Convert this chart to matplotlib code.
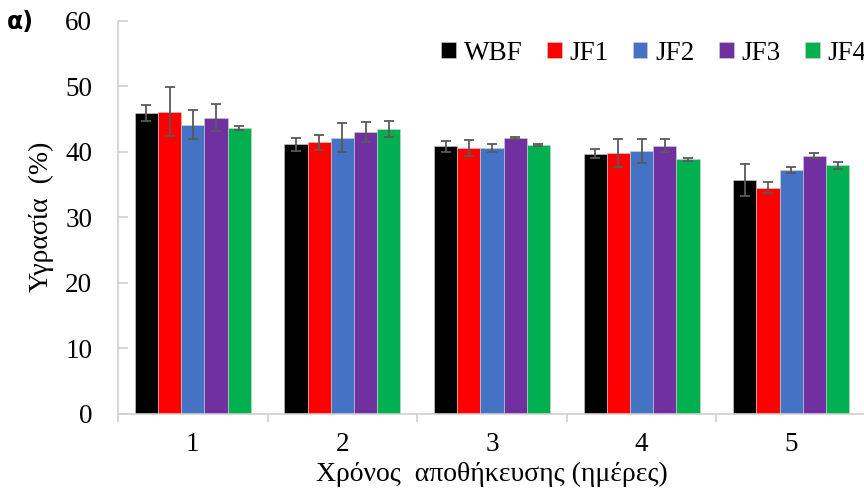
import matplotlib
matplotlib.use("Agg")
import matplotlib.pyplot as plt
import numpy as np

# Storage time (days) and moisture content (%) per formulation
days = ["1", "2", "3", "4", "5"]
series = ["WBF", "JF1", "JF2", "JF3", "JF4"]
colors = ["#000000", "#FF0000", "#4472C4", "#7030A0", "#00B050"]

wbf = [45.9, 41.1, 40.8, 39.7, 35.6]
jf1 = [46.1, 41.4, 40.6, 39.8, 34.5]
jf2 = [44.1, 42.1, 40.6, 40.1, 37.2]
jf3 = [45.2, 43.0, 42.1, 40.9, 39.4]
jf4 = [43.6, 43.5, 41.0, 38.8, 37.9]

wbf_err = [1.2, 1.0, 0.9, 0.65, 2.45]
jf1_err = [3.7, 1.15, 1.2, 2.2, 0.85]
jf2_err = [2.2, 2.2, 0.6, 1.9, 0.5]
jf3_err = [2.0, 1.6, 0.15, 1.0, 0.35]
jf4_err = [0.3, 1.25, 0.15, 0.3, 0.5]

values = [wbf, jf1, jf2, jf3, jf4]
errors = [wbf_err, jf1_err, jf2_err, jf3_err, jf4_err]

plt.rcParams["font.family"] = ["Liberation Serif", "DejaVu Serif"]

W, H = 864, 499
fig = plt.figure(figsize=(W / 100, H / 100), dpi=100)
ax = fig.add_axes([118 / W, (H - 413.5) / H, (866 - 118) / W, (413.5 - 20.7) / H])

x = np.arange(len(days))
bw = 0.155
handles = []
for i, (vals, errs, c, name) in enumerate(zip(values, errors, colors, series)):
    b = ax.bar(x + (i - 2) * bw, vals, bw, color=c, edgecolor="#d0d0d0",
               linewidth=0.4, label=name, zorder=2,
               yerr=errs, error_kw=dict(ecolor="#595959", elinewidth=1.3,
                                        capsize=3.8, capthick=1.3, zorder=3))
    handles.append(b)

ax.set_xlim(-0.5, len(days) - 0.5)
ax.set_ylim(0, 60)
ax.set_yticks(np.arange(0, 61, 10))
ax.set_xticks(x)
ax.set_xticklabels(days)
ax.set_xticks(np.arange(-0.5, len(days), 1), minor=True)

for s in ["top", "right"]:
    ax.spines[s].set_visible(False)
for s in ["left", "bottom"]:
    ax.spines[s].set_color("#d0d0d0")
    ax.spines[s].set_linewidth(1.2)

ax.tick_params(axis="y", direction="in", length=7, width=1.2, color="#d0d0d0",
               labelsize=19.5, pad=18.5)
ax.tick_params(axis="x", which="major", length=0, labelsize=19.5, pad=13)
ax.tick_params(axis="x", which="minor", direction="out", length=6, width=1.2,
               color="#d0d0d0")

ax.set_ylabel("Υγρασία  (%)", fontsize=20, labelpad=8)
ax.set_xlabel("Χρόνος  αποθήκευσης (ημέρες)", fontsize=20, labelpad=4)

fig.legend(handles=handles, loc="center left", bbox_to_anchor=(441 / W, 1 - 53 / H),
           ncol=5, frameon=False, fontsize=19.5, handlelength=0.55,
           handleheight=0.55, handletextpad=0.28, columnspacing=0.9,
           borderpad=0, borderaxespad=0)

fig.text(7 / W, 1 - 22 / H, "α)", fontsize=17, fontweight="bold",
         family=["DejaVu Sans"], va="center", ha="left")

fig.savefig("out.png", dpi=100)
